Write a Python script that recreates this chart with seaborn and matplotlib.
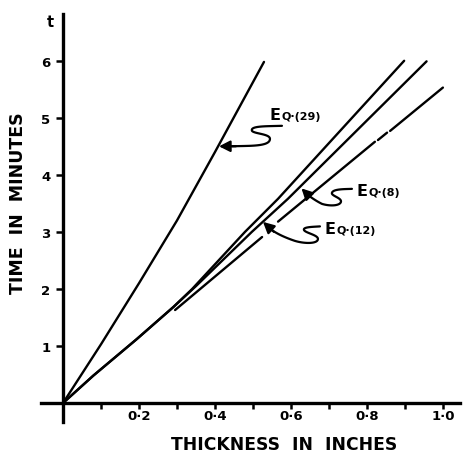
import matplotlib
matplotlib.use("Agg")
import matplotlib.pyplot as plt
import numpy as np
import pandas as pd
import seaborn as sns

# curves (thickness in inches, time in minutes)
eq29_x = [0.0, 0.10, 0.20, 0.30, 0.40, 0.529]
eq29_t = [0.0, 1.03, 2.10, 3.20, 4.40, 5.98]

upper_x = [0.0, 0.0797, 0.194, 0.290, 0.340, 0.479, 0.566, 0.898]
upper_t = [0.0, 0.48, 1.12, 1.68, 2.00, 3.00, 3.58, 6.00]

middle_x = [0.0, 0.0797, 0.194, 0.290, 0.350, 0.497, 0.592, 0.957]
middle_t = [0.0, 0.48, 1.12, 1.68, 2.05, 3.00, 3.58, 5.99]

# broken line, drawn as separate pieces
lower_seg = [0, 0, 1, 1, 2, 2, 3, 3]
lower_x = [0.295, 0.524, 0.566, 0.821, 0.829, 0.853, 0.861, 1.000]
lower_t = [1.63, 2.91, 3.18, 4.58, 4.61, 4.74, 4.77, 5.53]

x_ticks_major = [0.2, 0.4, 0.6, 0.8, 1.0]
x_tick_labels = ["0·2", "0·4", "0·6", "0·8", "1·0"]
x_ticks_minor = [0.1, 0.3, 0.5, 0.7, 0.9]
y_ticks = [1, 2, 3, 4, 5, 6]
y_tick_labels = ["1", "2", "3", "4", "5", "6"]

rows = []
for name, xs, ts, segs in [
    ("eq29", eq29_x, eq29_t, [0] * len(eq29_x)),
    ("upper", upper_x, upper_t, [0] * len(upper_x)),
    ("middle", middle_x, middle_t, [0] * len(middle_x)),
    ("lower", lower_x, lower_t, lower_seg),
]:
    for x, t, s in zip(xs, ts, segs):
        rows.append({"curve": name, "seg": f"{name}_{s}", "x": x, "t": t})
df = pd.DataFrame(rows)

sns.set_style("white")
plt.rcParams["font.family"] = ["DejaVu Sans"]
plt.rcParams["font.weight"] = "bold"
plt.rcParams["text.color"] = "black"
plt.rcParams["axes.labelcolor"] = "black"
plt.rcParams["xtick.color"] = "black"
plt.rcParams["ytick.color"] = "black"

fig = plt.figure(figsize=(4.65, 4.56), dpi=100)
ax = fig.add_axes([41 / 465, 33 / 456, 419 / 465, 408 / 456])

sns.lineplot(data=df, x="x", y="t", units="seg", estimator=None, sort=False,
             color="black", linewidth=1.7, legend=False, ax=ax)

ax.set_xlim(-0.058, 1.045)
ax.set_ylim(-0.333, 6.82)

for side in ["top", "right"]:
    ax.spines[side].set_visible(False)
for side in ["left", "bottom"]:
    ax.spines[side].set_position(("data", 0))
    ax.spines[side].set_linewidth(2.4)
    ax.spines[side].set_color("black")

ax.set_xticks(x_ticks_major, x_tick_labels)
ax.set_xticks(x_ticks_minor, minor=True)
ax.set_yticks(y_ticks, y_tick_labels)
ax.tick_params(axis="x", which="both", direction="out", length=4.5, width=1.8,
               pad=0, labelsize=9.5, bottom=True)
ax.tick_params(axis="y", direction="out", length=5, width=1.8, pad=4,
               labelsize=9.5, left=True)

ax.set_xlabel("THICKNESS  IN  INCHES", fontsize=12.3, fontweight="bold")
ax.set_ylabel("TIME  IN  MINUTES", fontsize=12.5, fontweight="bold")
ax.xaxis.set_label_coords(0.58, -0.055)
ax.xaxis.label.set_va("center")
ax.yaxis.set_label_coords(-0.055, 0.539)
ax.yaxis.label.set_va("center")
ax.yaxis.label.set_ha("center")


def px(xp, yp):
    return ((xp - 63) / 380, (404 - yp) / 57)


ax.text(*px(50.5, 23), "t", fontsize=10.5, ha="center", va="center")


def bezier_chain(pts):
    out = [pts[0]]
    for i in range(1, len(pts) - 2, 3):
        p0 = np.array(out[-1])
        p1, p2, p3 = (np.array(p) for p in pts[i:i + 3])
        for s in np.linspace(0, 1, 20)[1:]:
            q = ((1 - s) ** 3) * p0 + 3 * ((1 - s) ** 2) * s * p1 \
                + 3 * (1 - s) * s * s * p2 + (s ** 3) * p3
            out.append(tuple(q))
    return out


def squiggle(pts, tail, tip):
    curve = [px(*p) for p in bezier_chain(pts)]
    ax.plot([c[0] for c in curve], [c[1] for c in curve], color="black",
            lw=1.6, solid_capstyle="round")
    ax.annotate("", xy=px(*tip), xytext=px(*tail),
                arrowprops=dict(arrowstyle="-|>,head_length=0.55,head_width=0.28",
                                color="black", lw=1.6, shrinkA=0, shrinkB=0,
                                mutation_scale=12))


squiggle([(282, 127), (266, 127.5), (250, 127), (252, 132),
          (254, 135), (270, 135), (270, 140),
          (270, 145), (262, 146.5), (250, 147),
          (244, 147.2), (238, 147.3), (232, 147.4)],
         tail=(236, 147.4), tip=(219, 147.5))
squiggle([(352, 190), (345, 190.3), (333, 190), (332, 194),
          (331, 197), (342, 199), (341, 203),
          (340, 207), (330, 207.5), (322, 205),
          (316, 202), (311, 198.5), (308, 196)],
         tail=(310, 198), tip=(301.5, 189.5))
squiggle([(320, 227.5), (313, 228), (303, 228), (304, 231),
          (305, 234), (318, 236), (318, 240),
          (318, 245), (305, 245), (295, 242),
          (286, 239), (277, 235), (271, 230.5)],
         tail=(274, 233), tip=(263, 223))

for e_left, q_left, base, label in [(270, 282, 120, "Q·(29)"),
                                    (357, 369, 196, "Q·(8)"),
                                    (325, 337, 234, "Q·(12)")]:
    ax.text(*px(e_left, base), "E", fontsize=11.5, ha="left", va="baseline")
    ax.text(*px(q_left, base), label, fontsize=8, ha="left", va="baseline")

fig.savefig("out.png", dpi=100)
